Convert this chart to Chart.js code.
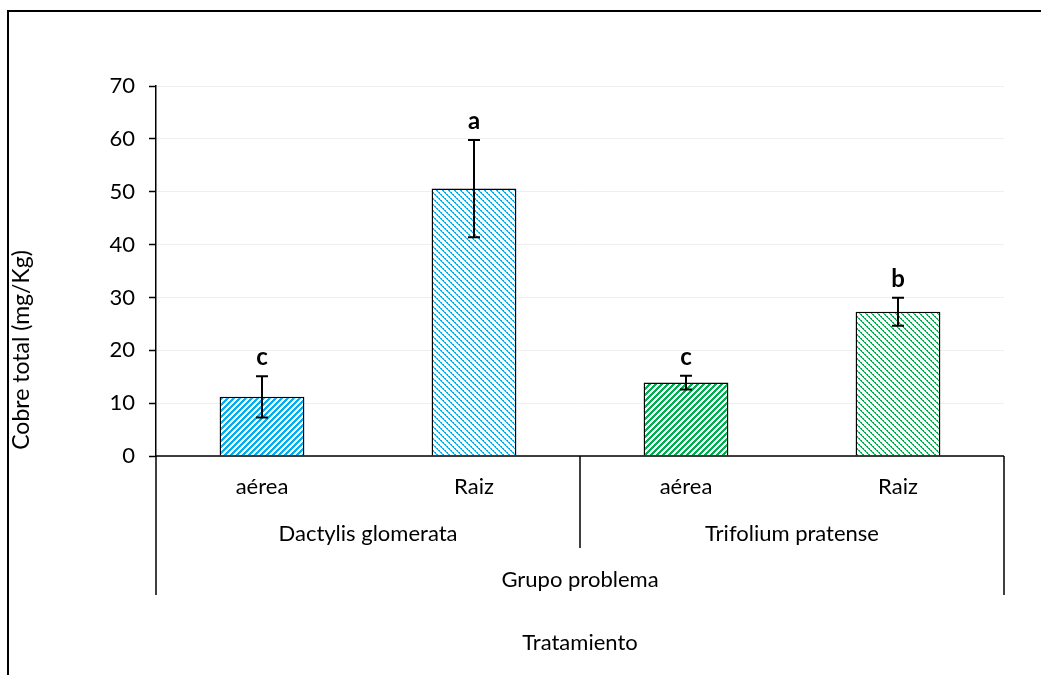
<!DOCTYPE html>
<html>
<head>
<meta charset="utf-8">
<script src="https://cdn.jsdelivr.net/npm/chart.js@4"></script>
<style>
  html, body { margin: 0; padding: 0; background: #ffffff; }
  #wrap { width: 1041px; height: 675px; position: relative; }
</style>
</head>
<body>
<div id="wrap"><canvas id="chart" width="1041" height="675"></canvas></div>
<script>
// Copper content per plant part and species
const partLabels   = ['aérea', 'Raiz', 'aérea', 'Raiz'];
const speciesNames = ['Dactylis glomerata', 'Trifolium pratense'];
const speciesOfBar = [0, 0, 1, 1];
const groupName    = 'Grupo problema';
const axisTitleX   = 'Tratamiento';
const axisTitleY   = 'Cobre total (mg/Kg)';
const copperMeans  = [11.2, 50.6, 13.9, 27.3];
const copperErrors = [3.9, 9.2, 1.3, 2.65];
const signifLetters = ['c', 'a', 'c', 'b'];
const yTickValues  = [0, 10, 20, 30, 40, 50, 60, 70];

const FONT = 'Lato, "Open Sans", sans-serif';
const BLUE = '#00b0f0';
const GREEN = '#00b050';

// Hatch fills: wide upward diagonal for the aerial part, light downward diagonal for roots
function makeHatch(color, dir) {
  const n = 6;
  const tile = document.createElement('canvas');
  tile.width = n; tile.height = n;
  const t = tile.getContext('2d');
  t.fillStyle = '#ffffff';
  t.fillRect(0, 0, n, n);
  for (let y = 0; y < n; y++) {
    for (let x = 0; x < n; x++) {
      if (dir === 'up') {
        if (((x + y) % n) < 3) { t.fillStyle = color; t.fillRect(x, y, 1, 1); }
      } else {
        const k = (((x - y) % n) + n) % n;
        if (k === 0) { t.fillStyle = color; t.fillRect(x, y, 1, 1); }
        else if (k === 1 && (y % 2 === 0)) { t.fillStyle = color; t.fillRect(x, y, 1, 1); }
        else if (k === 1) { t.globalAlpha = 0.4; t.fillStyle = color; t.fillRect(x, y, 1, 1); t.globalAlpha = 1; }
      }
    }
  }
  const ctx = document.getElementById('chart').getContext('2d');
  return ctx.createPattern(tile, 'repeat');
}

const fills = [
  makeHatch(BLUE, 'up'),
  makeHatch(BLUE, 'down'),
  makeHatch(GREEN, 'up'),
  makeHatch(GREEN, 'down')
];

const decorations = {
  id: 'decorations',
  afterDatasetsDraw(chart) {
    const ctx = chart.ctx;
    const x = chart.scales.x;
    const y = chart.scales.y;
    const area = chart.chartArea;
    ctx.save();

    // error bars and significance letters
    ctx.strokeStyle = '#000';
    ctx.lineWidth = 2;
    copperMeans.forEach((m, i) => {
      const cx = x.getPixelForValue(i);
      const top = y.getPixelForValue(m + copperErrors[i]);
      const bot = y.getPixelForValue(m - copperErrors[i]);
      ctx.beginPath();
      ctx.moveTo(cx, top); ctx.lineTo(cx, bot);
      ctx.moveTo(cx - 6, top); ctx.lineTo(cx + 6, top);
      ctx.moveTo(cx - 6, bot); ctx.lineTo(cx + 6, bot);
      ctx.stroke();
      ctx.fillStyle = '#000';
      ctx.font = 'bold 24px ' + FONT;
      ctx.textAlign = 'center';
      ctx.textBaseline = 'alphabetic';
      ctx.fillText(signifLetters[i], cx, top - 11);
    });

    // category axis line and multi-level dividers
    const left = area.left, right = area.right, base = area.bottom;
    const mid = (x.getPixelForValue(1) + x.getPixelForValue(2)) / 2;
    ctx.lineWidth = 1.5;
    ctx.beginPath();
    ctx.moveTo(left, base); ctx.lineTo(right, base);
    ctx.moveTo(left, base); ctx.lineTo(left, base + 139);
    ctx.moveTo(right, base); ctx.lineTo(right, base + 139);
    ctx.moveTo(mid, base); ctx.lineTo(mid, base + 92);
    ctx.stroke();

    // category labels
    ctx.fillStyle = '#000';
    ctx.font = '22px ' + FONT;
    ctx.textAlign = 'center';
    ctx.textBaseline = 'middle';
    partLabels.forEach((lab, i) => {
      ctx.fillText(lab, x.getPixelForValue(i), base + 31);
    });
    speciesNames.forEach((name, s) => {
      const idx = speciesOfBar.map((v, i) => v === s ? i : -1).filter(i => i >= 0);
      const c = (x.getPixelForValue(idx[0]) + x.getPixelForValue(idx[idx.length - 1])) / 2;
      ctx.fillText(name, c, base + 78);
    });
    const centre = (left + right) / 2;
    ctx.fillText(groupName, centre, base + 124);
    ctx.fillText(axisTitleX, centre, base + 187);

    // value axis title
    ctx.save();
    ctx.font = '23px ' + FONT;
    ctx.translate(22, 350);
    ctx.rotate(-Math.PI / 2);
    ctx.fillText(axisTitleY, 0, 0);
    ctx.restore();

    // outer frame
    ctx.lineWidth = 2;
    ctx.beginPath();
    ctx.moveTo(8, 676); ctx.lineTo(8, 11); ctx.lineTo(1042, 11);
    ctx.stroke();

    ctx.restore();
  }
};

new Chart(document.getElementById('chart'), {
  type: 'bar',
  data: {
    labels: partLabels,
    datasets: [{
      data: copperMeans,
      backgroundColor: fills,
      borderColor: '#000',
      borderWidth: 1.5,
      barPercentage: 0.4,
      categoryPercentage: 1
    }]
  },
  options: {
    responsive: false,
    animation: false,
    events: [],
    layout: { padding: { top: 86, right: 37, bottom: 219, left: 0 } },
    plugins: { legend: { display: false }, tooltip: { enabled: false } },
    scales: {
      x: { display: false },
      y: {
        min: 0, max: 70,
        afterFit(scale) { scale.width = 156; },
        afterBuildTicks(scale) { scale.ticks = yTickValues.map(v => ({ value: v })); },
        ticks: {
          color: '#000',
          font: { family: FONT, size: 22 },
          padding: 14
        },
        grid: {
          color: '#efefef',
          lineWidth: 1,
          tickColor: '#000',
          tickLength: 7,
          tickWidth: 1.5
        },
        border: { display: true, color: '#000', width: 1.5 }
      }
    }
  },
  plugins: [decorations]
});
</script>
</body>
</html>
